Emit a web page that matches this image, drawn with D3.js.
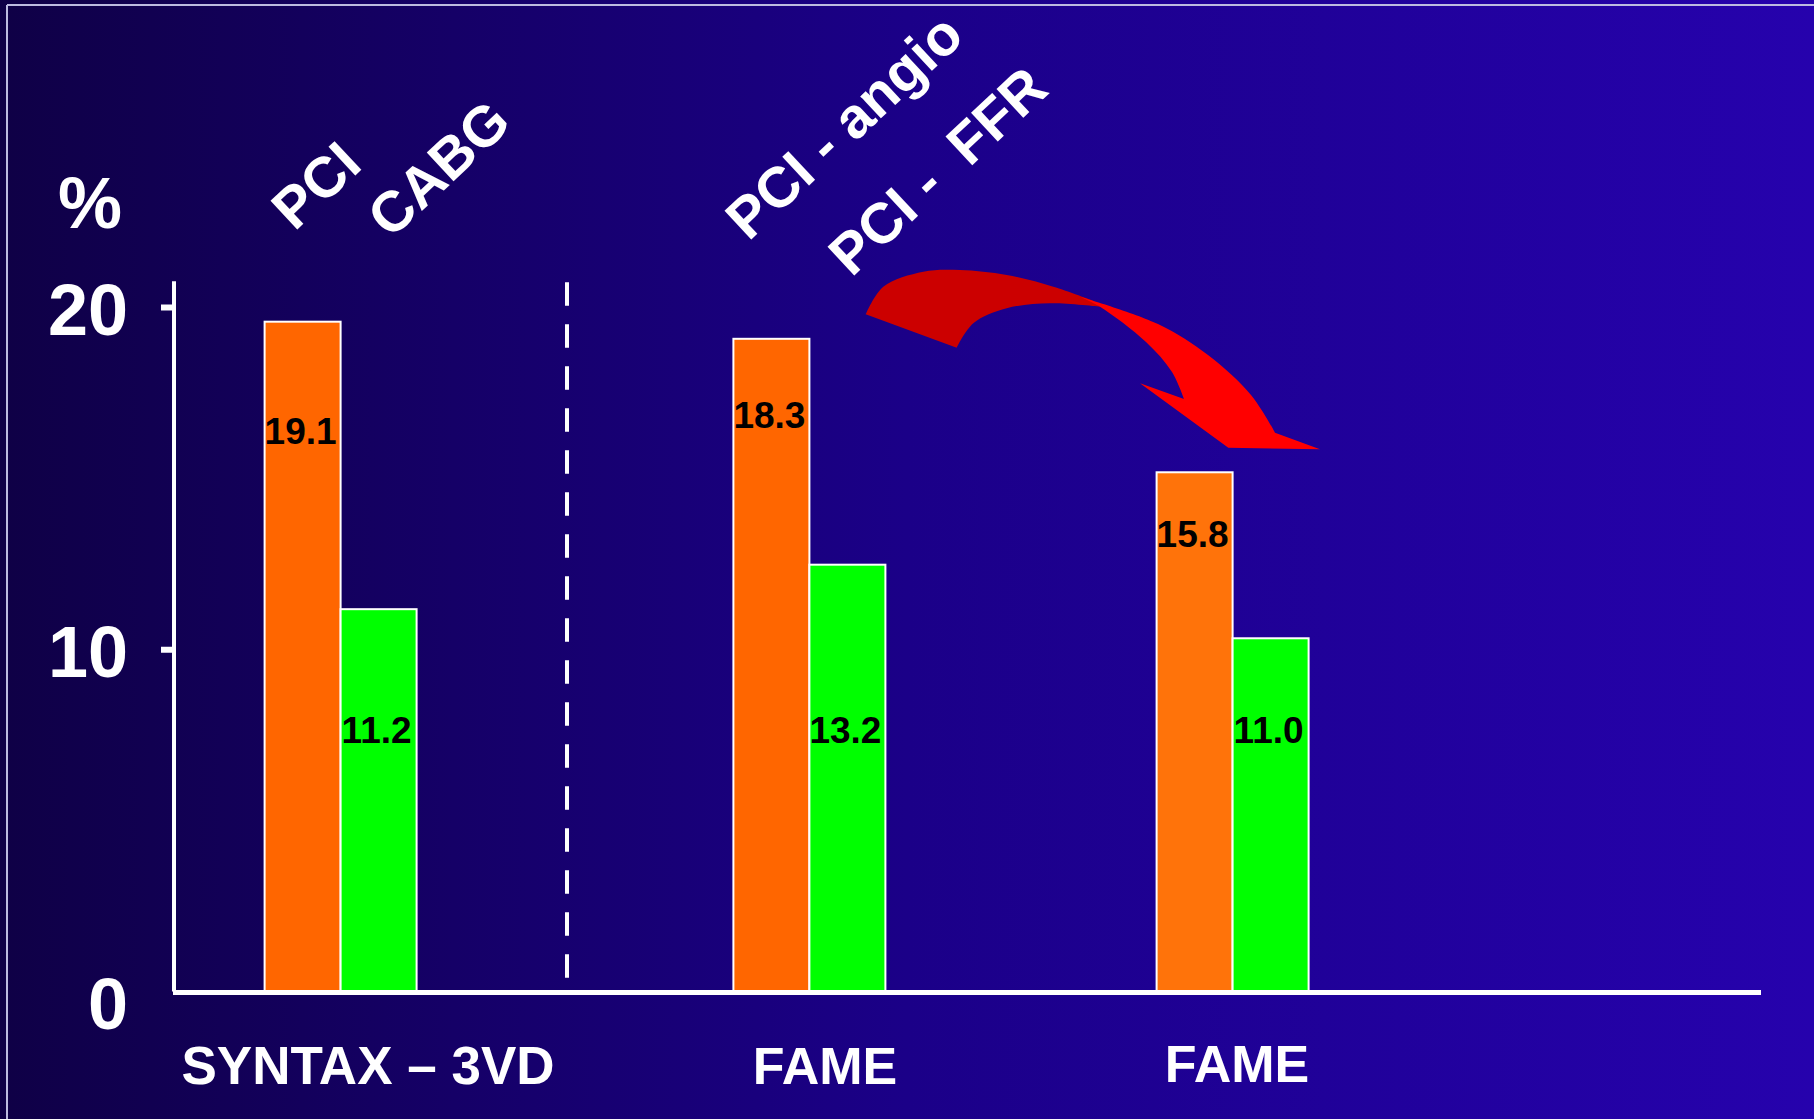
<!DOCTYPE html>
<html><head><meta charset="utf-8">
<script src="https://cdn.jsdelivr.net/npm/d3@7"></script>
<style>html,body{margin:0;padding:0;overflow:hidden;background:#14005e}</style>
</head><body>
<svg id="c" width="1814" height="1119"></svg>
<script>
// ---------- data ----------
const groupIds = ["syntax", "fame1", "fame2"];
const groupLabels = ["SYNTAX – 3VD", "FAME", "FAME"];
const seriesLabelsPerGroup = [["PCI", "CABG"], ["PCI - angio", "PCI -  FFR"], ["", ""]];
const orangeValues = [19.6, 19.1, 15.2];     // bar heights as drawn (%)
const greenValues = [11.2, 12.5, 10.35];
const orangeLabels = ["19.1", "18.3", "15.8"];
const greenLabels = ["11.2", "13.2", "11.0"];
const orangeLabelLevels = [16.0, 16.45, 13.0];  // where the value text sits (%)
const greenLabelLevels = [7.25, 7.25, 7.25];
const yTicks = [0, 10, 20];
const yAxisTop = 20.75;

// ---------- layout ----------
const W = 1814, H = 1119;
const FONT = "'Liberation Sans', Arial, Helvetica, sans-serif";
const svg = d3.select("#c");

const defs = svg.append("defs");
const grad = defs.append("linearGradient").attr("id", "bg").attr("x1", "0").attr("y1", "0").attr("x2", "1").attr("y2", "0");
grad.append("stop").attr("offset", "0").attr("stop-color", "#0f0046");
grad.append("stop").attr("offset", "0.5").attr("stop-color", "#1b0088");
grad.append("stop").attr("offset", "1").attr("stop-color", "#2602ad");
svg.append("rect").attr("width", W).attr("height", H).attr("fill", "url(#bg)");

// slide frame
svg.append("line").attr("x1", 7).attr("x2", W).attr("y1", 5).attr("y2", 5).attr("stroke", "#bdbbe0").attr("stroke-width", 2);
svg.append("line").attr("x1", 7).attr("x2", 7).attr("y1", 5).attr("y2", H).attr("stroke", "#bdbbe0").attr("stroke-width", 2);

const y = d3.scaleLinear().domain([0, 20]).range([991.5, 307]);
const xGroup = d3.scaleOrdinal().domain(groupIds).range([340.6, 809.4, 1232.6]);
const xInner = d3.scaleBand().domain([0, 1]).range([-76, 76]).paddingInner(0);
const xLabel = d3.scaleOrdinal().domain(groupIds).range([368, 825, 1237]);
const axisX = 174;

const rows = groupIds.map((g, i) => ({
  g, i,
  vals: [orangeValues[i], greenValues[i]],
  labels: [orangeLabels[i], greenLabels[i]],
  levels: [orangeLabelLevels[i], greenLabelLevels[i]],
  series: seriesLabelsPerGroup[i]
}));
const orangeFills = ["#ff6600", "#ff6600", "#ff730a"];
const greenFill = "#00ff00";

// bars
const bars = svg.append("g");
rows.forEach(r => {
  r.vals.forEach((v, k) => {
    bars.append("rect")
      .attr("x", xGroup(r.g) + xInner(k))
      .attr("y", y(v) + 1)
      .attr("width", xInner.bandwidth())
      .attr("height", y(0) - y(v) - 1)
      .attr("fill", k === 0 ? orangeFills[r.i] : greenFill)
      .attr("stroke", "#ffffff")
      .attr("stroke-width", 2);
  });
});

// value labels
rows.forEach(r => {
  r.labels.forEach((t, k) => {
    svg.append("text")
      .attr("x", xGroup(r.g) + xInner(k) + xInner.bandwidth() / 2 - 2)
      .attr("y", y(r.levels[k]))
      .attr("text-anchor", "middle")
      .attr("font-family", FONT).attr("font-weight", "bold").attr("font-size", 37)
      .attr("fill", "#000").text(t);
  });
});

// y axis
const yAxis = d3.axisLeft(y).tickValues(yTicks).tickSize(13).tickPadding(33).tickFormat(d3.format("d"));
const gy = svg.append("g").attr("transform", `translate(${axisX},0)`).call(yAxis);
gy.select(".domain").remove();
gy.selectAll(".tick line").attr("stroke", "#fff").attr("stroke-width", 6)
  .attr("display", d => d === 0 ? "none" : null);
gy.selectAll(".tick text").attr("fill", "#fff").attr("font-family", FONT)
  .attr("font-weight", "bold").attr("font-size", 72)
  .attr("dy", d => d === 0 ? "0.52em" : "0.38em");
svg.append("line").attr("x1", axisX).attr("x2", axisX).attr("y1", y(yAxisTop)).attr("y2", y(0))
  .attr("stroke", "#fff").attr("stroke-width", 4);

// x axis baseline
svg.append("line").attr("x1", axisX - 1).attr("x2", 1761).attr("y1", y(0) + 1).attr("y2", y(0) + 1)
  .attr("stroke", "#fff").attr("stroke-width", 5);

// dashed separator
svg.append("line").attr("x1", 567).attr("x2", 567).attr("y1", y(yAxisTop) + 1).attr("y2", 978)
  .attr("stroke", "#fff").attr("stroke-width", 4).attr("stroke-dasharray", "23.3,18.7");

// % unit
svg.append("text").attr("x", 58).attr("y", 228).attr("fill", "#fff")
  .attr("font-family", FONT).attr("font-weight", "bold").attr("font-size", 72).text("%");

// group labels
rows.forEach((r, i) => {
  svg.append("text").attr("x", xLabel(r.g)).attr("y", i === 2 ? 1082 : 1084)
    .attr("text-anchor", "middle").attr("fill", "#fff")
    .attr("font-family", FONT).attr("font-weight", "bold").attr("font-size", i === 0 ? 53 : 52)
    .text(groupLabels[i]);
});

// rotated series labels above bars
const seriesDx = [[-8, 12], [-23, 4]];
const seriesY = [[232, 240], [242, 278]];
rows.forEach(r => {
  r.series.forEach((t, k) => {
    if (!t) return;
    const cx = xGroup(r.g) + xInner(k) + xInner.bandwidth() / 2 + seriesDx[r.i][k];
    const cy = seriesY[r.i][k];
    svg.append("text").attr("transform", `translate(${cx},${cy}) rotate(-43)`)
      .attr("fill", "#fff").attr("font-family", FONT).attr("font-weight", "bold")
      .attr("font-size", 57).style("white-space", "pre").text(t);
  });
});

// curved red arrow (annotation)
const cr = d3.line().curve(d3.curveCatmullRom.alpha(0.5));
const darkOuter = [[865.7,314.3],[883.3,286.7],[923.3,271.7],[960,270],[1006.7,275],[1053.3,286.7],[1093.3,300.7]];
const darkInner = [[1100,306.7],[1050,303.3],[1006.7,308.3],[973.3,323.3],[956.7,347.7]];
svg.append("path").attr("fill", "#cc0000")
  .attr("d", cr(darkOuter) + "L" + cr(darkInner).slice(1) + "Z");
const brightOuter = [[1080,296.7],[1158,324],[1208,355],[1251,395],[1275,432.7]];
const head = "L1320,449.3L1228.3,447.7L1140,383.3L1184,399";
const brightInner = [[1184,399],[1172,372],[1146,342],[1100,306.7],[1080,296.7]];
svg.append("path").attr("fill", "#ff0000")
  .attr("d", cr(brightOuter) + head + "L" + cr(brightInner).slice(1) + "Z");
</script>
</body></html>
